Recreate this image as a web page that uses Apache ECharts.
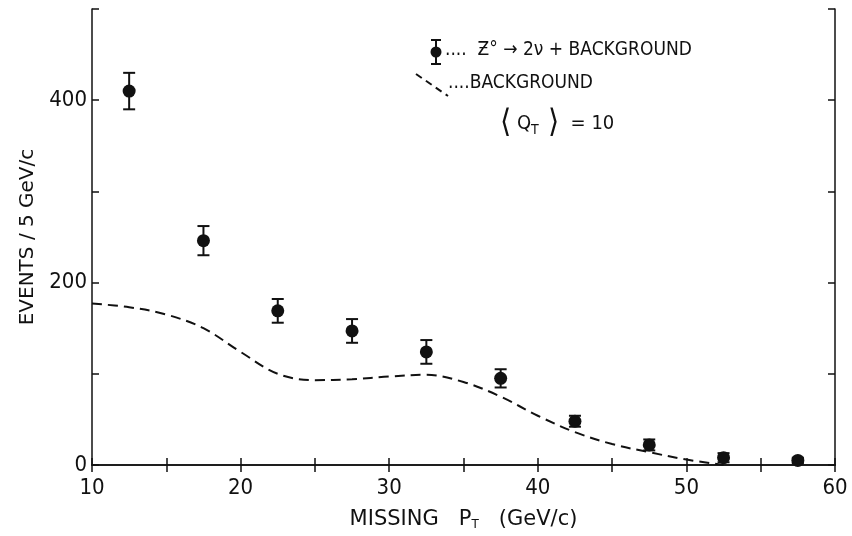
<!DOCTYPE html>
<html>
<head>
<meta charset="utf-8">
<script src="https://cdn.jsdelivr.net/npm/echarts@6/dist/echarts.min.js"></script>
<style>
  html, body { margin: 0; padding: 0; background: #fff; }
  #chart { width: 852px; height: 536px; }
</style>
</head>
<body>
<div id="chart"></div>
<script>
// measured points (centre of each 5 GeV/c bin)
const ptX = [12.5, 17.5, 22.5, 27.5, 32.5, 37.5, 42.5, 47.5, 52.5, 57.5];
const ptY = [410, 246, 169, 147, 124, 95, 48, 22, 8, 5];
const ptErr = [20, 16, 13, 13, 13, 10, 6, 6, 5, 3];

// background curve (dashed)
const bgX = [10, 12.5, 15, 17.5, 20, 22.5, 25, 27.5, 30, 32.5, 35, 37.5, 40, 42.5, 45, 47.5, 50, 52.5];
const bgY = [177, 173, 165, 150, 124, 100, 93, 94, 97, 99, 91, 75, 54, 36, 23, 14, 6, 0];

const xTicks = [10, 20, 30, 40, 50, 60];
const yTicks = [0, 200, 400];

const ink = "#111";
const font = "DejaVu Sans Condensed";
const titleFont = "DejaVu Sans";

let myChart = echarts.init(document.getElementById("chart"));

let pts = ptX.map((x, i) => [x, ptY[i]]);
let bars = ptX.map((x, i) => [x, ptY[i] - ptErr[i], ptY[i] + ptErr[i]]);
let bg = bgX.map((x, i) => [x, bgY[i]]);

let option = {
  animation: false,
  backgroundColor: "#fff",
  grid: { left: 92, right: 17, top: 9, bottom: 71 },
  xAxis: [
    {
      type: "value",
      min: 10,
      max: 60,
      interval: 5,
      name: "{a|MISSING   P}{s|T}{a|   (GeV/c)}",
      nameLocation: "middle",
      nameGap: 44,
      nameTextStyle: {
        rich: {
          a: { fontFamily: titleFont, fontSize: 21, color: ink },
          s: { fontFamily: titleFont, fontSize: 12, color: ink, verticalAlign: "bottom", padding: [10, 0, 0, 0] }
        }
      },
      axisLine: { lineStyle: { color: ink, width: 1.5 } },
      axisTick: { inside: true, length: 7, lineStyle: { color: ink, width: 1.5 } },
      axisLabel: {
        margin: 12,
        fontFamily: font,
        fontSize: 22,
        color: ink,
        formatter: v => (xTicks.includes(v) ? String(v) : "")
      },
      splitLine: { show: false }
    },
    {
      type: "value",
      position: "top",
      min: 10,
      max: 60,
      interval: 5,
      axisLine: { show: true, lineStyle: { color: ink, width: 1.5 } },
      axisTick: { inside: true, length: 7, lineStyle: { color: ink, width: 1.5 } },
      axisLabel: { show: false },
      splitLine: { show: false }
    }
  ],
  yAxis: [
    {
      type: "value",
      min: 0,
      max: 500,
      interval: 100,
      name: "EVENTS / 5 GeV/c",
      nameLocation: "middle",
      nameGap: 54,
      nameTextStyle: { fontFamily: titleFont, fontSize: 20, color: ink },
      axisLine: { show: true, lineStyle: { color: ink, width: 1.5 } },
      axisTick: { show: true, inside: true, length: 7, lineStyle: { color: ink, width: 1.5 } },
      axisLabel: {
        margin: 5,
        fontFamily: font,
        fontSize: 22,
        color: ink,
        formatter: v => (yTicks.includes(v) ? String(v) : "")
      },
      splitLine: { show: false }
    },
    {
      type: "value",
      position: "right",
      min: 0,
      max: 500,
      interval: 100,
      axisLine: { show: true, lineStyle: { color: ink, width: 1.5 } },
      axisTick: { show: true, inside: true, length: 7, lineStyle: { color: ink, width: 1.5 } },
      axisLabel: { show: false },
      splitLine: { show: false }
    }
  ],
  graphic: [
    // legend entry 1: error-bar marker
    { type: "line", shape: { x1: 436, y1: 40, x2: 436, y2: 64 }, style: { stroke: ink, lineWidth: 2 } },
    { type: "line", shape: { x1: 431, y1: 40, x2: 441, y2: 40 }, style: { stroke: ink, lineWidth: 2 } },
    { type: "line", shape: { x1: 431, y1: 64, x2: 441, y2: 64 }, style: { stroke: ink, lineWidth: 2 } },
    { type: "circle", shape: { cx: 436, cy: 52, r: 5.5 }, style: { fill: ink } },
    {
      type: "text", left: 445, top: 41,
      style: { text: "....  Ƶ° → 2ν + BACKGROUND", fontFamily: font, fontSize: 19, fill: ink }
    },
    // legend entry 2: dashed background
    { type: "line", shape: { x1: 416, y1: 74, x2: 448, y2: 96 }, style: { stroke: ink, lineWidth: 2, lineDash: [7, 5] } },
    {
      type: "text", left: 448, top: 74,
      style: { text: "....BACKGROUND", fontFamily: font, fontSize: 19, fill: ink }
    },
    // <Q_T> = 10
    {
      type: "text", left: 500, top: 108,
      style: {
        text: "{b|⟨}{a| Q}{s|T}{b| ⟩}{a|  = 10}",
        rich: {
          a: { fontFamily: font, fontSize: 20, fill: ink },
          b: { fontFamily: font, fontSize: 32, fill: ink },
          s: { fontFamily: font, fontSize: 14, fill: ink, padding: [12, 0, 0, 0] }
        }
      }
    }
  ],
  series: [
    {
      name: "BACKGROUND",
      type: "line",
      data: bg,
      smooth: 0.35,
      symbol: "none",
      lineStyle: { color: ink, width: 2, type: [10, 6] },
      z: 2
    },
    {
      name: "errors",
      type: "custom",
      data: bars,
      renderItem: function (params, api) {
        let x = api.coord([api.value(0), 0])[0];
        let lo = api.coord([api.value(0), api.value(1)])[1];
        let hi = api.coord([api.value(0), api.value(2)])[1];
        let w = 6;
        let st = { stroke: ink, lineWidth: 2 };
        return {
          type: "group",
          children: [
            { type: "line", shape: { x1: x, y1: lo, x2: x, y2: hi }, style: st },
            { type: "line", shape: { x1: x - w, y1: lo, x2: x + w, y2: lo }, style: st },
            { type: "line", shape: { x1: x - w, y1: hi, x2: x + w, y2: hi }, style: st }
          ]
        };
      },
      z: 3
    },
    {
      name: "Z0 -> 2nu + BACKGROUND",
      type: "scatter",
      data: pts,
      symbol: "circle",
      symbolSize: 13,
      itemStyle: { color: ink, opacity: 1 },
      z: 4
    }
  ]
};
myChart.setOption(option);
</script>
</body>
</html>
